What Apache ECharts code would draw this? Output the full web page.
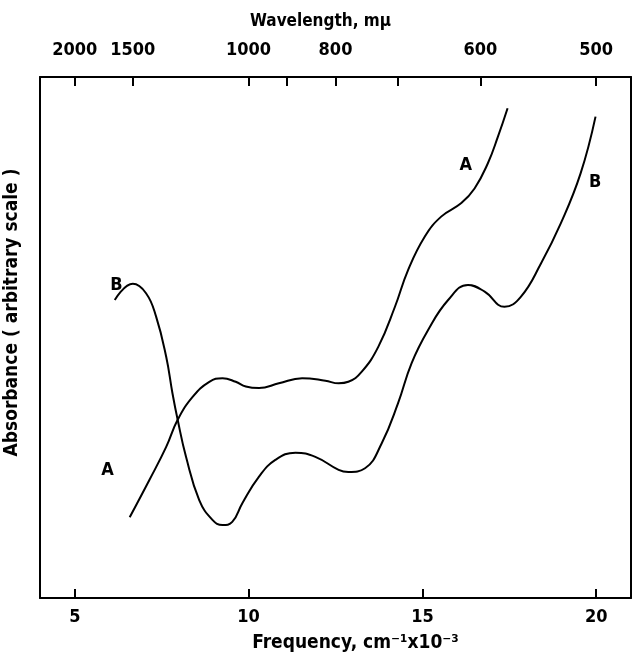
<!DOCTYPE html>
<html>
<head>
<meta charset="utf-8">
<script src="https://cdn.jsdelivr.net/npm/echarts@6/dist/echarts.min.js"></script>
<style>
    html, body { margin: 0; padding: 0; background: #fff; }
    #absorbance-chart { width: 633px; height: 656px; }
</style>
</head>
<body>
<div id="absorbance-chart"></div>
<script>
// frequency (cm-1 x10-3) vs absorbance (arbitrary)
var curveA = [
    [6.58, 15.5], [7.15, 22.7], [7.63, 29.0], [7.96, 34.2], [8.39, 38.6],
    [8.87, 41.5], [9.25, 42.2], [9.63, 41.5], [9.92, 40.6], [10.30, 40.3],
    [10.87, 41.2], [11.54, 42.2], [12.21, 41.7], [12.59, 41.2], [12.87, 41.5],
    [13.25, 43.4], [13.73, 48.2], [14.21, 55.9], [14.59, 63.0], [15.07, 69.4],
    [15.54, 73.2], [16.12, 75.8], [16.50, 78.6], [16.88, 83.4], [17.17, 88.5],
    [17.45, 94.0]
];
var curveB = [
    [6.15, 57.2], [6.67, 60.3], [7.05, 58.5], [7.34, 54.0], [7.63, 46.3],
    [7.81, 39.3], [7.96, 34.2], [8.20, 27.1], [8.58, 18.8], [8.96, 15.0],
    [9.25, 14.0], [9.53, 14.6], [9.82, 18.2], [10.30, 23.3], [10.77, 26.5],
    [11.35, 27.9], [11.92, 27.1], [12.59, 24.6], [12.87, 24.2], [13.35, 24.9],
    [13.83, 29.7], [14.30, 37.4], [14.69, 45.1], [15.16, 51.4], [15.74, 57.2],
    [16.31, 60.1], [16.79, 58.8], [17.36, 55.9], [17.83, 57.8], [18.41, 64.2],
    [18.98, 71.9], [19.55, 81.5], [19.98, 92.4]
];
var freqTicks = [5, 10, 15, 20];
var wavelengthTicks = [2000, 1500, 1000, 900, 800, 700, 600, 500];
var wavelengthLabels = [2000, 1500, 1000, 800, 600, 500];
var labelsA = [[5.94, 24.6], [16.25, 83.1]];
var labelsB = [[6.2, 60.1], [19.97, 79.8]];

function toFreq(lambda) {
    return 10000 / lambda;
}

var font = "'DejaVu Sans Condensed', 'DejaVu Sans', sans-serif";
var black = '#000';

function curveLabels(points, text) {
    return {
        symbol: 'circle',
        symbolSize: 0,
        label: {
            show: true, position: 'inside', formatter: text,
            color: black, fontFamily: font, fontWeight: 'bold', fontSize: 18
        },
        data: points.map(function (p) { return {coord: p}; })
    };
}

var chart = echarts.init(document.getElementById('absorbance-chart'));

var option = {
    animation: false,
    backgroundColor: '#fff',
    grid: {left: 40, right: 2, top: 77, bottom: 58, outerBoundsMode: 'none', containLabel: false},
    xAxis: [{
        type: 'value',
        position: 'bottom',
        min: 4, max: 21,
        name: 'Frequency, cm⁻¹x10⁻³',
        nameLocation: 'middle',
        nameGap: 36,
        nameTextStyle: {color: black, fontFamily: font, fontWeight: 'bold', fontSize: 19, padding: [0, 0, 0, 40]},
        axisLine: {onZero: false, lineStyle: {color: black, width: 2}},
        axisTick: {inside: true, length: 9, lineStyle: {color: black, width: 2}, customValues: freqTicks},
        axisLabel: {color: black, fontFamily: font, fontWeight: 'bold', fontSize: 18, margin: 10, customValues: freqTicks},
        splitLine: {show: false}
    }, {
        type: 'value',
        position: 'top',
        min: 4, max: 21,
        name: 'Wavelength, mμ',
        nameLocation: 'middle',
        nameGap: 47,
        nameTextStyle: {color: black, fontFamily: font, fontWeight: 'bold', fontSize: 17, padding: [0, 30, 0, 0]},
        axisLine: {onZero: false, lineStyle: {color: black, width: 2}},
        axisTick: {inside: true, length: 9, lineStyle: {color: black, width: 2}, customValues: wavelengthTicks.map(toFreq)},
        axisLabel: {
            color: black, fontFamily: font, fontWeight: 'bold', fontSize: 18, margin: 18,
            customValues: wavelengthLabels.map(toFreq),
            formatter: function (v) { return Math.round(10000 / v); }
        },
        splitLine: {show: false}
    }],
    yAxis: [{
        type: 'value',
        min: 0, max: 100,
        name: 'Absorbance ( arbitrary scale )',
        nameLocation: 'middle',
        nameGap: 18,
        nameRotate: 90,
        nameTextStyle: {color: black, fontFamily: font, fontWeight: 'bold', fontSize: 19, padding: [0, 0, 0, 50]},
        axisLine: {show: true, onZero: false, lineStyle: {color: black, width: 2}},
        axisTick: {show: false},
        axisLabel: {show: false},
        splitLine: {show: false}
    }, {
        type: 'value',
        position: 'right',
        min: 0, max: 100,
        axisLine: {show: true, onZero: false, lineStyle: {color: black, width: 2}},
        axisTick: {show: false},
        axisLabel: {show: false},
        splitLine: {show: false}
    }],
    series: [{
        name: 'A',
        type: 'line',
        data: curveA,
        smooth: 0.45,
        symbol: 'none',
        lineStyle: {color: black, width: 2},
        markPoint: curveLabels(labelsA, 'A')
    }, {
        name: 'B',
        type: 'line',
        data: curveB,
        smooth: 0.45,
        symbol: 'none',
        lineStyle: {color: black, width: 2},
        markPoint: curveLabels(labelsB, 'B')
    }]
};

chart.setOption(option);
</script>
</body>
</html>
